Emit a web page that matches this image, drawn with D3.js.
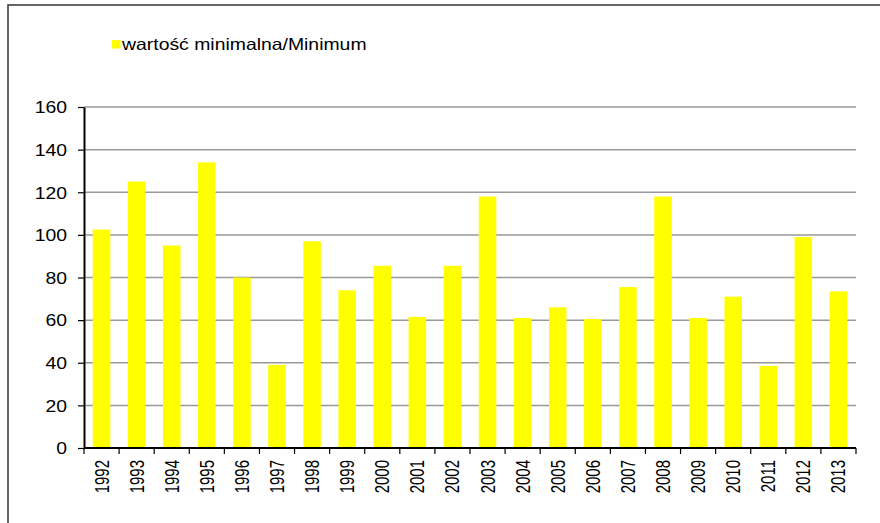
<!DOCTYPE html>
<html>
<head>
<meta charset="utf-8">
<script src="https://cdn.jsdelivr.net/npm/d3@7/dist/d3.min.js"></script>
<style>
  body { margin: 0; background: #fff; }
  text { font-family: "Liberation Sans", Arial, sans-serif; fill: #000; }
  .grid_line { stroke: #999; stroke-width: 1.5; }
  .axis_min path.domain { stroke: #000; stroke-width: 2; }
  .axis_min .tick line { stroke: #000; stroke-width: 1.2; }
</style>
</head>
<body>
<div id="chart_min"></div>
<script>
// data
var years_min = ["1992","1993","1994","1995","1996","1997","1998","1999","2000","2001","2002",
                 "2003","2004","2005","2006","2007","2008","2009","2010","2011","2012","2013"];
var values_min = [102.5, 125, 95, 134, 80, 39, 97, 74, 85.5, 61.5, 85.5,
                  118, 61, 66, 60.5, 75.5, 118, 61, 71, 38.5, 99, 73.5];
var yTicks_min = [0, 20, 40, 60, 80, 100, 120, 140, 160];
var seriesName_min = "wartość minimalna/Minimum";

var width_min = 880, height_min = 523;
var plot_min = { left: 84, right: 856, top: 107, bottom: 448 };
var stretch_min = 1.19;   // original text looks wider than normal Arial
var stretchX_min = 1.3;   // rotated year labels

var data_min = years_min.map(function (y, i) { return { year: y, value: values_min[i] }; });

var svg_min = d3.select("#chart_min").append("svg")
    .attr("width", width_min)
    .attr("height", height_min);

// outer frame (cut off on right and bottom)
svg_min.append("rect")
    .attr("x", 8).attr("y", 5)
    .attr("width", 1000).attr("height", 1000)
    .attr("fill", "none")
    .attr("stroke", "#333")
    .attr("stroke-width", 1.5);

var xScale_min = d3.scaleBand()
    .domain(years_min)
    .range([plot_min.left, plot_min.right])
    .paddingInner(0.5)
    .paddingOuter(0.25);
var xEdge_min = d3.scaleBand()
    .domain(years_min)
    .range([plot_min.left, plot_min.right]);
var yScale_min = d3.scaleLinear()
    .domain([0, 160])
    .range([plot_min.bottom, plot_min.top]);

// gridlines
svg_min.selectAll(".grid_line")
    .data(yTicks_min.filter(function (d) { return d > 0; }))
    .enter().append("line")
    .attr("class", "grid_line")
    .attr("x1", plot_min.left).attr("x2", plot_min.right)
    .attr("y1", function (d) { return yScale_min(d); })
    .attr("y2", function (d) { return yScale_min(d); });

// bars
svg_min.selectAll(".bar_min")
    .data(data_min)
    .enter().append("rect")
    .attr("class", "bar_min")
    .attr("x", function (d) { return xScale_min(d.year); })
    .attr("y", function (d) { return yScale_min(d.value); })
    .attr("width", xScale_min.bandwidth())
    .attr("height", function (d) { return plot_min.bottom - yScale_min(d.value); })
    .attr("fill", "#ffff00");

// y axis
var yAxisG_min = svg_min.append("g")
    .attr("class", "axis_min")
    .attr("transform", "translate(" + plot_min.left + ",0)")
    .call(d3.axisLeft(yScale_min).tickValues(yTicks_min).tickSize(6).tickSizeOuter(0));
yAxisG_min.selectAll(".tick text")
    .attr("x", -17 / stretch_min)
    .attr("dy", "0.36em")
    .attr("font-size", 16.3)
    .attr("font-family", null)
    .attr("transform", "scale(" + stretch_min + ",1)");

// x axis: labels at band centres, tick marks on band edges
var xAxisG_min = svg_min.append("g")
    .attr("class", "axis_min")
    .attr("transform", "translate(0," + plot_min.bottom + ")")
    .call(d3.axisBottom(xScale_min).tickSize(0).tickSizeOuter(0));
xAxisG_min.select("path.domain")
    .attr("d", "M" + plot_min.left + ",0H" + plot_min.right);
xAxisG_min.selectAll(".tick text")
    .attr("font-size", 15)
    .attr("font-family", null)
    .attr("text-anchor", "end")
    .attr("x", -12)
    .attr("y", 0)
    .attr("dy", "0.36em")
    .attr("transform", "scale(" + stretchX_min + ",1) rotate(-90)");

var edges_min = years_min.map(function (y) { return xEdge_min(y); }).concat([plot_min.right]);
xAxisG_min.selectAll(".edge_tick")
    .data(edges_min)
    .enter().append("line")
    .attr("class", "edge_tick")
    .attr("x1", function (d) { return d; }).attr("x2", function (d) { return d; })
    .attr("y1", 0).attr("y2", 6)
    .attr("stroke", "#000")
    .attr("stroke-width", 1.2);

// legend
var legend_min = svg_min.append("g").attr("class", "legend_min");
legend_min.append("rect")
    .attr("x", 112).attr("y", 40)
    .attr("width", 8.5).attr("height", 8.5)
    .attr("fill", "#ffff00");
legend_min.append("text")
    .attr("transform", "translate(122,50) scale(" + stretch_min + ",1)")
    .attr("font-size", 16.3)
    .text(seriesName_min);
</script>
</body>
</html>
